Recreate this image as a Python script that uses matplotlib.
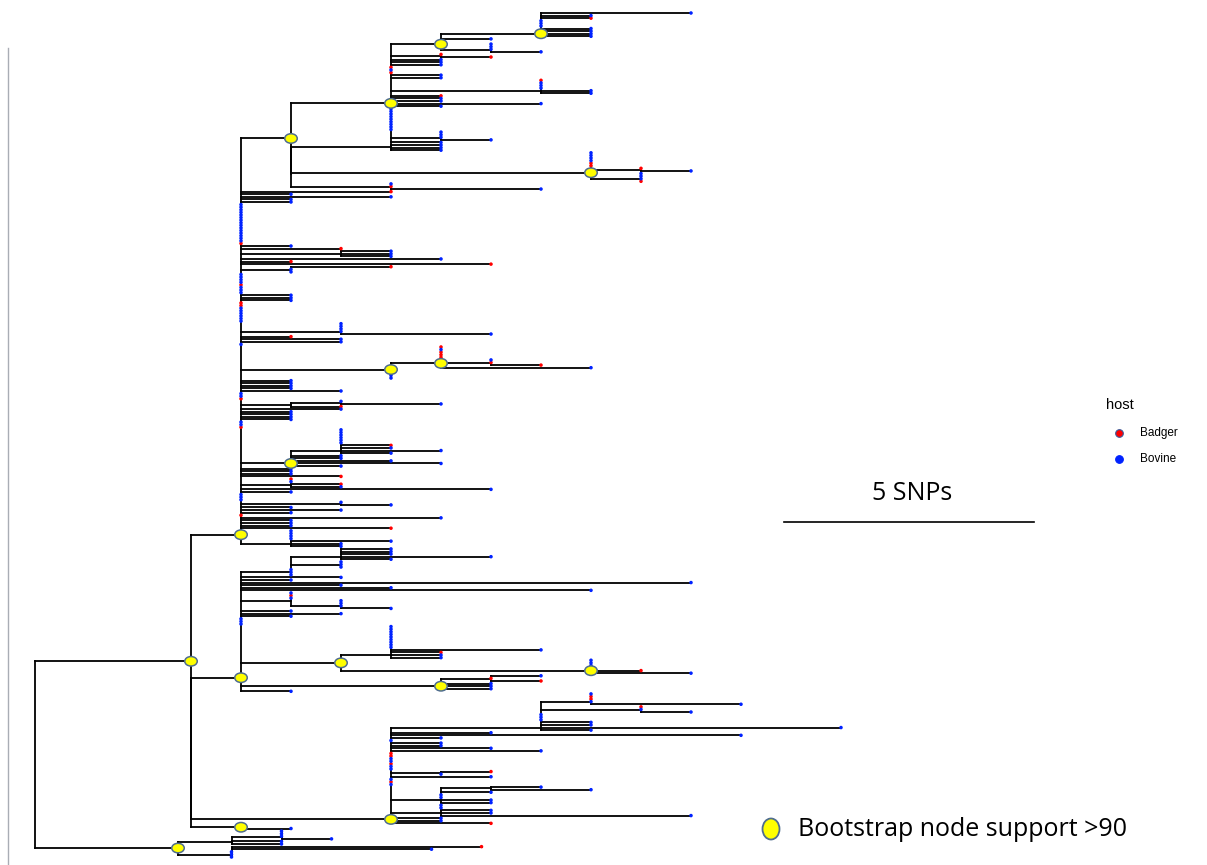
import matplotlib
matplotlib.use('Agg')
import matplotlib.pyplot as plt
from matplotlib.patches import Ellipse
from matplotlib.collections import LineCollection
from matplotlib.lines import Line2D

# ---------------- data: tree (branch lengths in SNPs) ----------------
# tips: c = Bovine, b = Badger ; internal label * = bootstrap support > 90
clade_N1 = "((c:3,c:1,b:1):0,c,c,c,c:1,c:1,c:1,c:1)*"
clade_C1a = "(" + clade_N1 + ":2,c:1,c,(c,c,c,c:1):1)*"
clade_C1 = ("(" + clade_C1a + ":1,(b,b:1):1,c:1,c:1,c:1,b,c,b,c:1,c:1,"
            "(b,c,c,c,c:1,c:1):3,b:1,c:1,c:1,c:3,c:1)*")
clade_C2 = "(c,c,c,c,c,c,c,c,c,(c,c,c,c:1):1,c:1,c:1,c:1,c:1)"
clade_C3 = "(c,c,c,c,b,b,(b,c:1):1,(c,c,c,b):1)*"
clade_C4 = "(c,b,c:3)"
clade_C = "(" + clade_C1 + ":2,((" + clade_C2 + ":2," + clade_C3 + ":6):0," + clade_C4 + ":2):0)*"

clade_H = "((b,c,b,b,b,(c,b,b:1):1,c:3)*:1,(c,c,c,c):0)*"
clade_J = "((c,c,c,c,c,c,b:1,c:1,c:2,c:1):1,c:1,c:1,c:2,c:3,c:1)*"
B_part1 = ("b:3,c:1,c:3,c:1,c:1,c,c,c,c,c,c,c,c,c,c,c,c,c,c,c,b,c:1,b:2,(c:1,c:1,c:1):2,c:4,b:1,b:5,"
           "(b:2,c,c):1,c,c,c,c,b,c,c,c,c:1,c:1,c:1,b,b,c,c,c,c,c,c,(c,c,c,c,c:3):2,b:1,c:2,c:2,c")
B_part2 = "c:1,c:1,c:1,c:1,c:2,c,c,b,((c,c:2):1,b:1):1,c:2,c:1,c:1,c:1,c:1,c,c,b"
B_part3 = ("c:1,c:1,c:1,b:2,(b,c,b:1,c:1):1,c:5,c:1,c,c,c,(c,c:1):2,c:1,c:2,c:1,b,c:4,"
           "c:1,c:1,c:1,b:3,(c,c,c,c,c:2,c:1,c:1):1")
clade_B = ("(" + clade_C + ":1," + B_part1 + "," + clade_H + ":3," + B_part2 + ","
           + clade_J + ":1," + B_part3 + ")*")

clade_P = "((c:1,c:1,c:1,c:3,c:1):1,(c,c,c):1,c,c,c)"
clade_R = "(c,b,c,(c,c,c,c:1):1)"
clade_U = "(c,c,c,c,c,c,c,c,c,c:3,b:1,c:1,c:1)"
clade_V = "(c,c,c,c,b:1,c:2)*"
clade_T = "(" + clade_U + ":1," + clade_V + ":5)*"
clade_W = "((c:1,b,b:1):1,c:1,c:1,c:1)*"
clade_D = ("(" + clade_P + ":1,c:2,c:1,c:9,c:2,c:3,c:7," + clade_R + ":1,c:1,c:2,c:1,c,c,c,"
           + clade_T + ":2," + clade_W + ":4,c:1)*")

clade_X = "((c,b,b,c,c:3):1,(b,c,c:1):2,c,c,c,c:1,c:1,c:6,c:1)"
clade_E = ("(" + clade_X + ":3,c:2,c:7,c:1,c,c:1,c:1,c:2,c:3,b,b,c,c,b,c,c,(b:1,c):1,c:2,c,b,c,"
           "((c:1,c:2):1,c:1,c,c,c:1,c:1):1,(c,c,c:1,c:1,c:5):1,c:1,c:1,b:2)*")
clade_F = "(c,c:1)*"
clade_A = "(" + clade_B + ":1,((" + clade_D + ":1," + clade_E + ":4):0," + clade_F + ":1):0)*"
clade_G = "(((c,c,c,c:1):1,c:1,c:1):1.07,(b:5,c:4,c,c,c):1.07)*"
tree_newick = "(" + clade_A + ":3.12," + clade_G + ":2.86)"

host_names = ["Badger", "Bovine"]
host_codes = ["b", "c"]
host_colors = ["#ff0000", "#0022ff"]
scale_snps = 5
scale_label = "5 SNPs"
legend_title = "host"
bootstrap_label = "Bootstrap node support >90"


# ---------------- parse & layout ----------------
def parse_newick(s):
    pos = 0

    def node():
        nonlocal pos
        n = {'children': [], 'label': '', 'length': 0.0}
        if s[pos] == '(':
            pos += 1
            while True:
                n['children'].append(node())
                if s[pos] == ',':
                    pos += 1
                    continue
                if s[pos] == ')':
                    pos += 1
                    break
        start = pos
        while pos < len(s) and s[pos] not in ':,()':
            pos += 1
        n['label'] = s[start:pos]
        if pos < len(s) and s[pos] == ':':
            pos += 1
            start = pos
            while pos < len(s) and s[pos] not in ',()':
                pos += 1
            n['length'] = float(s[start:pos])
        return n
    return node()


root = parse_newick(tree_newick)
tips, internals = [], []


def layout(n, x0):
    n['x'] = x0 + n['length']
    if not n['children']:
        n['y'] = float(len(tips))
        tips.append(n)
        return
    for ch in n['children']:
        layout(ch, n['x'])
    ys = [ch['y'] for ch in n['children']]
    y = ys[0]
    for v in ys[1:]:
        y = (y + v) / 2.0
    n['y'] = y
    internals.append(n)


layout(root, 0.0)
ntip = len(tips)

# ---------------- figure ----------------
W, H = 1207, 865
fig = plt.figure(figsize=(W / 100, H / 100), dpi=100)
ax = fig.add_axes([0, 0, 1, 1])
ax.axis('off')

px_per_snp = 50.0
x_root_px = 35
y_top_px, y_bot_px = 13, 857
sp = (y_bot_px - y_top_px) / (ntip - 1)
ax.set_xlim((0 - x_root_px) / px_per_snp, (W - x_root_px) / px_per_snp)
ax.set_ylim((H - y_top_px) / sp, (0 - y_top_px) / sp)

segs = []
for n in internals:
    ys = [ch['y'] for ch in n['children']]
    segs.append([(n['x'], min(ys)), (n['x'], max(ys))])
    for ch in n['children']:
        if ch['length'] > 0:
            segs.append([(n['x'], ch['y']), (ch['x'], ch['y'])])
ax.add_collection(LineCollection(segs, colors='black', linewidths=1.3, capstyle='projecting', zorder=1))

for code, col in zip(host_codes, host_colors):
    xs = [t['x'] for t in tips if t['label'] == code]
    ys = [t['y'] for t in tips if t['label'] == code]
    ax.scatter(xs, ys, s=6.5, c=col, edgecolors='none', zorder=3)

for n in internals:
    if n['label'] == '*':
        ax.add_patch(Ellipse((n['x'], n['y']), 12.5 / px_per_snp, 9.5 / sp,
                             facecolor='#ffff00', edgecolor='#4f6d8f', lw=1.1, zorder=4))

# scale bar
xb0 = (784 - x_root_px) / px_per_snp
yb = (522 - y_top_px) / sp
ax.plot([xb0, xb0 + scale_snps], [yb, yb], color='black', lw=1.2)
fig.text(912 / W, 1 - 493 / H, scale_label, fontsize=18, family='Open Sans',
         ha='center', va='center')

# host legend
fig.text(1106 / W, 1 - 405 / H, legend_title, fontsize=10.5, family='Liberation Sans',
         ha='left', va='center')
for i, (nm, col) in enumerate(zip(host_names, host_colors)):
    yy = 1 - (433 + 25.5 * i) / H
    fig.add_artist(Line2D([1119 / W], [yy], marker='o', ms=5.5, mfc=col,
                          mec='#3a5a9a' if i == 0 else col, mew=0.8, transform=fig.transFigure))
    fig.text(1140 / W, yy, nm, fontsize=8.5, family='Liberation Sans', ha='left', va='center')

# bootstrap legend
fig.add_artist(Ellipse((771 / W, 1 - 829 / H), 17 / W, 21 / H, facecolor='#ffff00',
                       edgecolor='#4f6d8f', lw=1.3, transform=fig.transFigure))
fig.text(798 / W, 1 - 829 / H, bootstrap_label, fontsize=18, family='Open Sans',
         ha='left', va='center')

# left border line
fig.add_artist(Line2D([8 / W, 8 / W], [1 - 48 / H, 0], color='#a9adb5', lw=1.0,
                      transform=fig.transFigure))

fig.savefig('out.png', dpi=100)
